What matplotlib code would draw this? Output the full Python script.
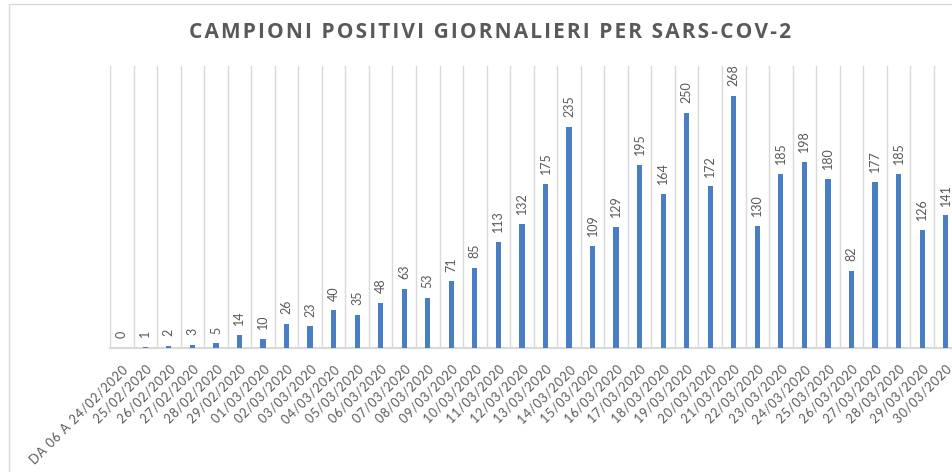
import matplotlib
matplotlib.use("Agg")
import matplotlib.pyplot as plt
from matplotlib.patches import Rectangle
import numpy as np

# data
dates = ["DA 06 A 24/02/2020", "25/02/2020", "26/02/2020", "27/02/2020", "28/02/2020", "29/02/2020"] + \
        [f"{d:02d}/03/2020" for d in range(1, 31)]
positives = [0, 1, 2, 3, 5, 14,
             10, 26, 23, 40, 35, 48, 63, 53, 71, 85,
             113, 132, 175, 235, 109, 129, 195, 164, 250, 172,
             268, 130, 185, 198, 180, 82, 177, 185, 126, 141]
title = "CAMPIONI POSITIVI GIORNALIERI PER SARS-COV-2"

text_gray = "#595959"
grid_gray = "#D9D9D9"
bar_blue = "#4A7EC4"

plt.rcParams['font.family'] = ['Lato', 'DejaVu Sans']

fig = plt.figure(figsize=(9.53, 4.72), dpi=100)

# outer chart frame
fig.patches.append(Rectangle((9 / 953, -0.1), 1.2, (472 - 4) / 472 + 0.1,
                             transform=fig.transFigure, fill=False,
                             edgecolor=grid_gray, linewidth=1))

ax = fig.add_axes([110 / 953, (472 - 348) / 472, 847.4 / 953, (348 - 66) / 472])
x = np.arange(len(positives))
ax.bar(x, positives, width=0.22, color=bar_blue, zorder=3)

for xi, v in zip(x, positives):
    ax.annotate(str(v), (xi, v), xytext=(0, 7), textcoords="offset points",
                rotation=90, ha="center", va="bottom", fontsize=9, color=text_gray)

ax.set_xlim(-0.5, len(positives) - 0.5)
ax.set_ylim(0, 300)
ax.set_yticks([])
ax.set_xticks(x)
ax.set_xticklabels(["\u200a".join(d) for d in dates], rotation=45, ha="right",
                   rotation_mode="anchor", fontsize=9, color=text_gray)
ax.tick_params(axis="x", length=0, pad=11)
ax.set_xticks(np.arange(-0.5, len(positives)), minor=True)
ax.tick_params(axis="x", which="minor", length=0)
ax.grid(axis="x", which="minor", color=grid_gray, linewidth=1, zorder=0)
for s in ["top", "right", "left"]:
    ax.spines[s].set_visible(False)
ax.spines["bottom"].set_color(grid_gray)
ax.spines["bottom"].set_linewidth(1.5)

# letter-spaced title
spaced = "\u200a".join(title)
fig.text(490 / 953, 1 - 32 / 472, spaced,
         ha="center", va="center", fontsize=15, fontweight="bold",
         color=text_gray, family=["Open Sans", "DejaVu Sans"])

fig.savefig("out.png", dpi=100)
